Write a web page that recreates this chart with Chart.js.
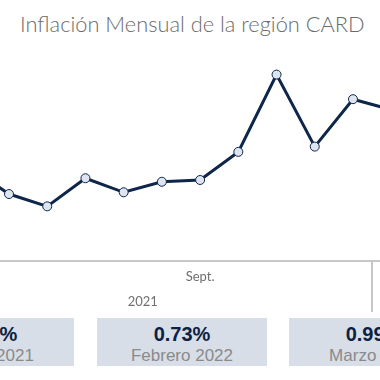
<!DOCTYPE html>
<html>
<head>
<meta charset="utf-8">
<script src="https://cdn.jsdelivr.net/npm/chart.js@4.4.0/dist/chart.umd.min.js"></script>
<style>
  html, body { margin: 0; padding: 0; background: #fff; }
  body { width: 380px; height: 380px; overflow: hidden; position: relative; }
  #title {
    position: absolute; top: 10px; left: 20px; white-space: nowrap;
    font-family: Lato, sans-serif; font-weight: 300; font-size: 21.8px; color: #6b6b6b;
  }
  #wrap { position: absolute; top: 0; left: 0; width: 380px; height: 312px; }
  .card {
    position: absolute; top: 318px; width: 170px; height: 48px;
    background: #d7dee7; text-align: center;
    font-family: "Liberation Sans", Arial, sans-serif;
  }
  .card .val { font-weight: bold; font-size: 20px; color: #0d2142; margin-top: 5px; line-height: 22px; }
  .card .lbl { font-size: 17px; color: #8a8a8a; line-height: 20px; margin-top: 1px; }
</style>
</head>
<body>
<div id="title">Inflación Mensual de la región CARD</div>
<div id="wrap"><canvas id="lineChart"></canvas></div>
<div id="cards"></div>
<script>
// monthly inflation, CARD region (%)
const months = ['Mar', 'Abr', 'May', 'Jun', 'Jul', 'Ago', 'Sept.', 'Oct', 'Nov', 'Dic', 'Ene', 'Feb'];
const inflation = [0.53, 0.38, 0.31, 0.47, 0.39, 0.45, 0.46, 0.62, 1.06, 0.65, 0.92, 0.86];
const monthTicks = [6];          // only this month label is shown
const years = ['2021'];
const yearTicks = [4.5];
const yearBreaks = [10.5];

const cardValues = ['0.52%', '0.73%', '0.99%'];
const cardLabels = ['Marzo 2021', 'Febrero 2022', 'Marzo 2022'];

const cardsEl = document.getElementById('cards');
const cardLefts = [-96, 97, 289];
cardValues.forEach((v, i) => {
    const d = document.createElement('div');
    d.className = 'card';
    d.style.left = cardLefts[i] + 'px';
    d.innerHTML = '<div class="val">' + v + '</div><div class="lbl">' + cardLabels[i] + '</div>';
    cardsEl.appendChild(d);
});

const sepPlugin = {
    id: 'yearSep',
    afterDraw(chart) {
        const ctx = chart.ctx;
        const xs = chart.scales.x;
        ctx.save();
        ctx.strokeStyle = '#c8c8c8';
        ctx.lineWidth = 2;
        yearBreaks.forEach(b => {
            const px = Math.round(xs.getPixelForValue(b));
            ctx.beginPath();
            ctx.moveTo(px, chart.chartArea.bottom);
            ctx.lineTo(px, chart.height);
            ctx.stroke();
        });
        ctx.restore();
    }
};

const axisFont = { family: 'Lato, sans-serif', size: 13 };

new Chart(document.getElementById('lineChart').getContext('2d'), {
    type: 'line',
    data: {
        datasets: [{
            data: inflation.map((v, i) => ({ x: i, y: v })),
            borderColor: '#0e2649',
            borderWidth: 3,
            pointRadius: 4.5,
            pointBackgroundColor: '#dde5f1',
            pointBorderColor: '#0e2649',
            pointBorderWidth: 1,
            tension: 0
        }]
    },
    options: {
        responsive: true,
        maintainAspectRatio: false,
        animation: false,
        layout: { autoPadding: false, padding: { top: 50, left: 0, right: 0, bottom: 0 } },
        plugins: { legend: { display: false }, tooltip: { enabled: false } },
        scales: {
            x: {
                type: 'linear',
                min: 0.7645,
                max: 10.707,
                grid: { display: false, drawTicks: false },
                border: { display: true, color: '#c8c8c8', width: 2 },
                afterBuildTicks: s => { s.ticks = monthTicks.map(v => ({ value: v })); },
                ticks: {
                    callback: v => months[v],
                    color: '#6f6f6f', font: axisFont, padding: 8,
                    maxRotation: 0, autoSkip: false
                }
            },
            x2: {
                type: 'linear',
                position: 'bottom',
                min: 0.7645,
                max: 10.707,
                grid: { display: false, drawTicks: false },
                border: { display: false },
                afterBuildTicks: s => { s.ticks = yearTicks.map(v => ({ value: v })); },
                ticks: {
                    callback: (v, i) => years[i],
                    color: '#6f6f6f', font: axisFont, padding: 2,
                    maxRotation: 0, autoSkip: false
                }
            },
            y: { display: false, min: 0, max: 1.2 }
        }
    },
    plugins: [sepPlugin]
});
</script>
</body>
</html>
